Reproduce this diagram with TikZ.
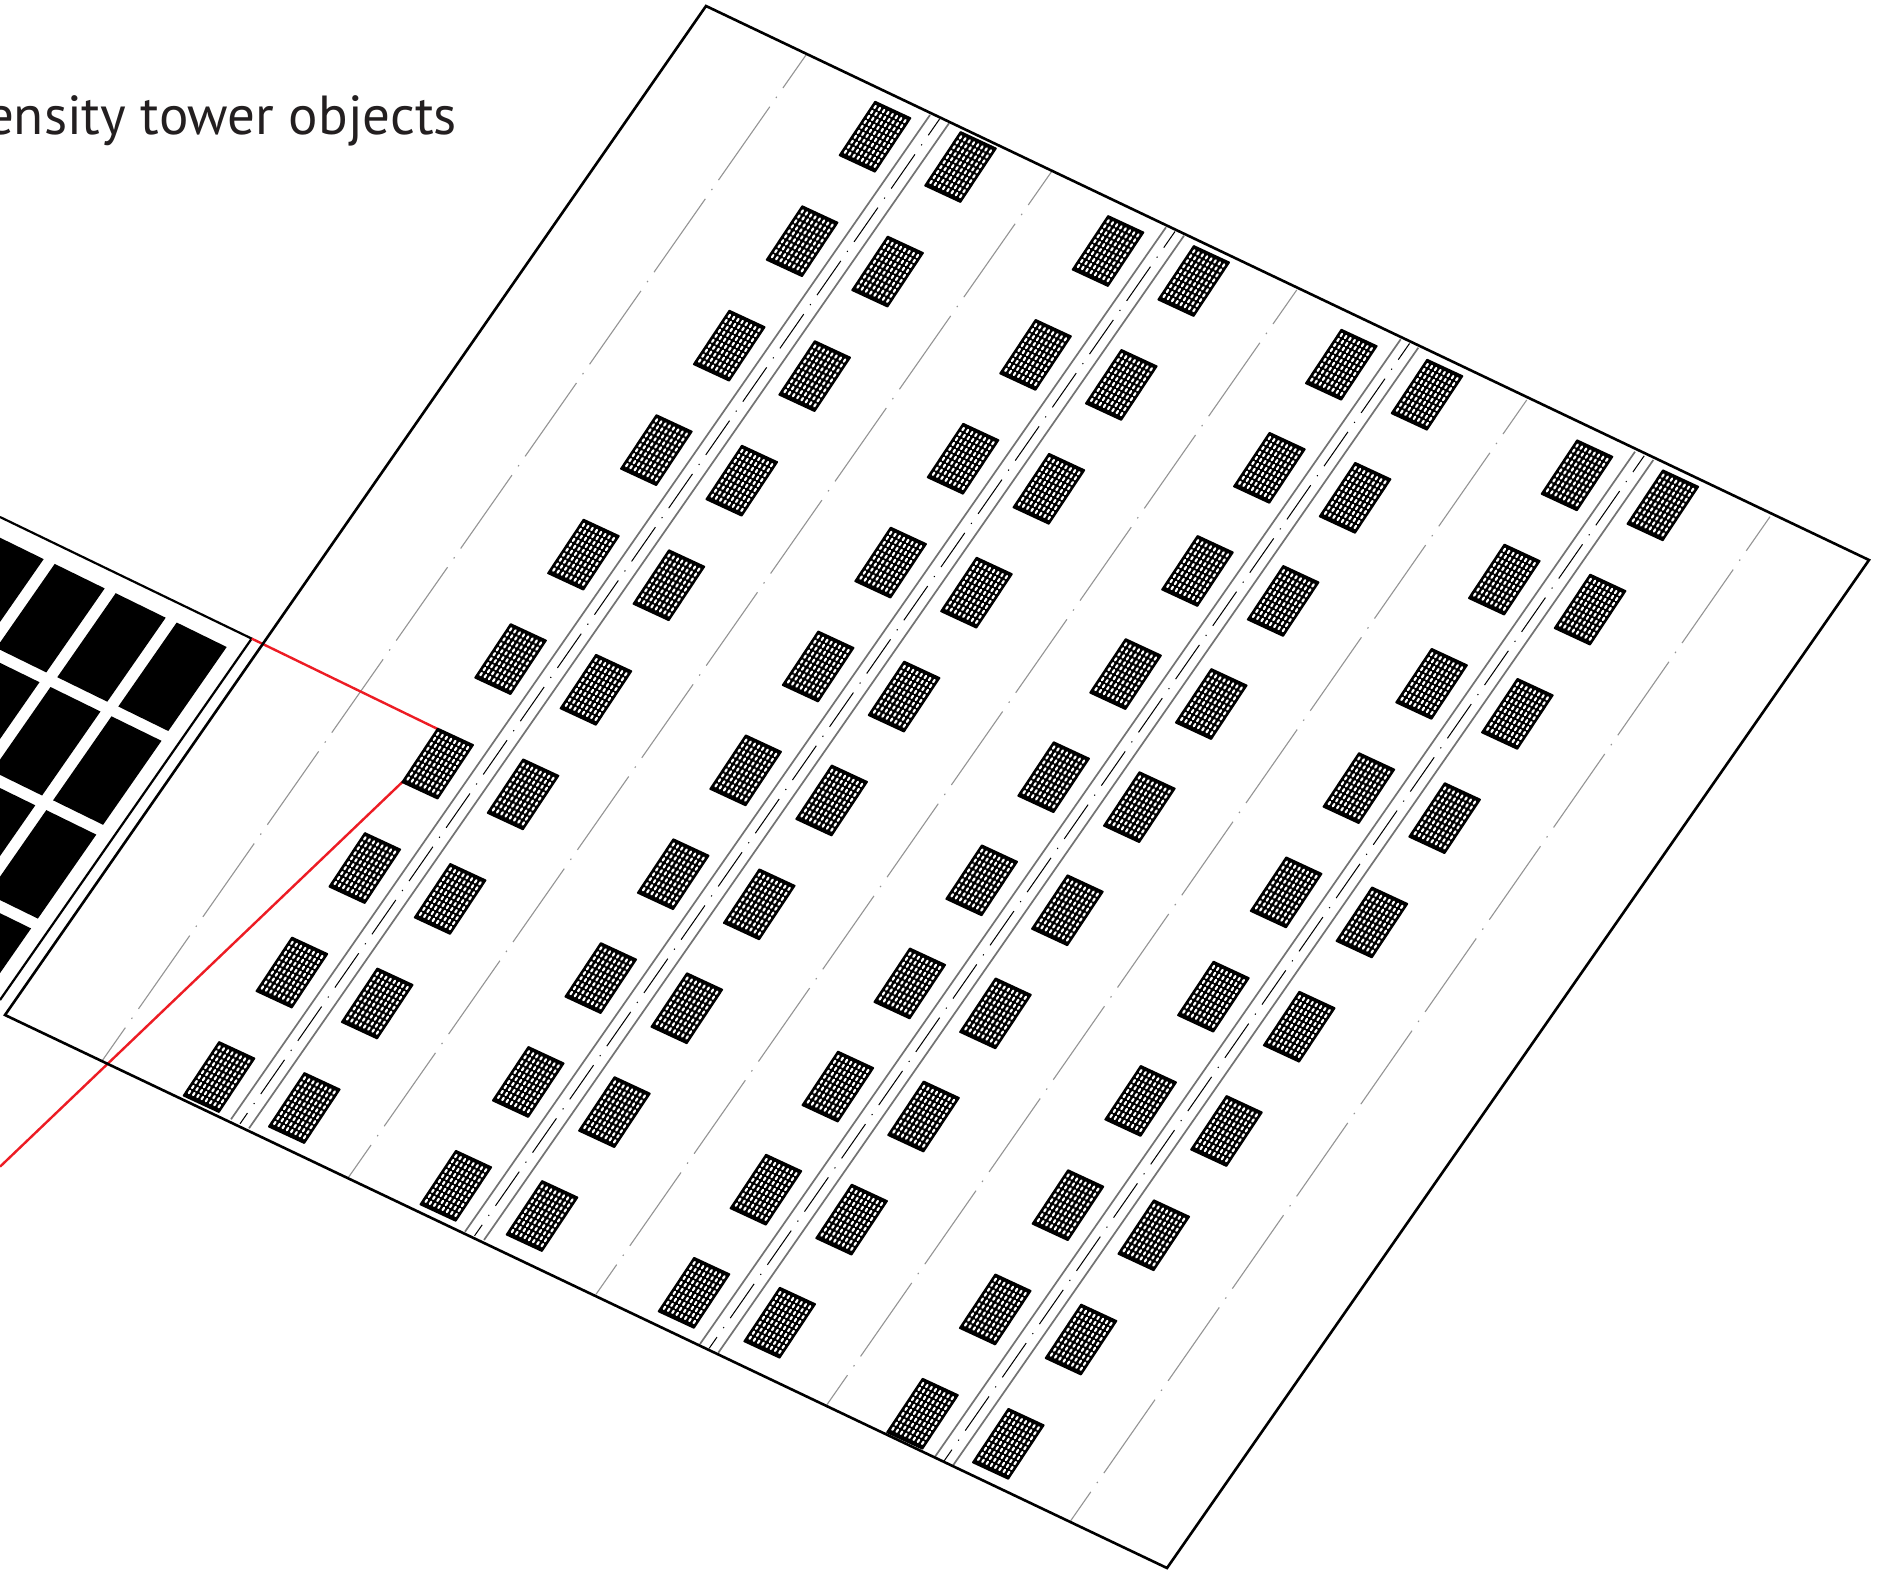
\documentclass[tikz,border=0pt]{standalone}
\usepackage{fontspec}
\setmainfont{PT Sans}
\definecolor{inkblack}{HTML}{231F20}
\definecolor{redline}{HTML}{ED1C24}
\tikzset{
  framed/.style={draw=black,line width=2.6pt,line join=miter},
  panelline/.style={draw=black,line width=2.2pt},
  redlink/.style={draw=redline,line width=2.4pt},
  block/.style={fill=black,draw=none},
  roadedge/.style={draw=black!55,line width=1.7pt},
  roadmid/.style={draw=black,line width=1pt,dash pattern=on 41.7pt off 11pt on 1.2pt off 11pt,dash phase=22pt},
  zoneline/.style={draw=black!42,line width=1.1pt,dash pattern=on 89.5pt off 10.7pt on 1.5pt off 10.7pt,dash phase=48pt},
  towerbody/.style={fill=black,draw=black,line width=1.8pt,line join=round},
  towerholes/.style={draw=white,line width=2.2pt,line cap=round,dash pattern=on 2.7pt off 3.25pt,dash phase=4.3pt}
}
\newcommand{\towerblock}[2]{%
  \begin{scope}[shift={(#1,#2)}]
    \path[towerbody] (0.1,-35) -- (35.4,-18.6) -- (-0.1,35) -- (-35.4,18.6) -- cycle;
    \foreach \cx in {-.4375,-.3125,-.1875,-.0625,.0625,.1875,.3125,.4375}{
      \path[towerholes] ({\cx*34+16.6},{\cx*16.2-25.1}) -- ({\cx*34-16.6},{\cx*16.2+25.1});
    }
  \end{scope}%
}
\begin{document}
\begin{tikzpicture}[x=1pt,y=-1pt]
\useasboundingbox (0,0) rectangle (1879,1574);
\clip (0,0) rectangle (1879,1574);
\fill[white] (0,0) rectangle (1879,1574);

% named frame corners
\coordinate (ftop) at (706,6);
\coordinate (fright) at (1869,560);
\coordinate (fbottom) at (1167,1568);
\coordinate (fleft) at (5,1015);
\coordinate (pcorner) at (251.7,638.6);
\coordinate (pstart) at (0,517);
\coordinate (pend) at (0,1000);
\coordinate (redend) at (0,1166.7);
\coordinate (towertop) at (438.3,729.3);
\coordinate (towerlow) at (402.7,781.7);

% text
\node[anchor=base east,inner sep=0pt,text=inkblack,font=\fontsize{55}{55}\selectfont] (caption) at (457,134) {ensity tower objects};

% panel blocks
\foreach \i in {0,...,3}{
  \foreach \j in {0,...,3}{
    \fill[block,shift={(176.7-61*\i-65.2*\j,622.5-29.3*\i+93.8*\j)}]
      (0,0) -- (50,24.5) -- (-8.4,108.5) -- (-58.4,84) -- cycle;
  }
}
\draw[panelline] (pstart) -- (pcorner) -- (pend);

% zone lines
\foreach \ax/\ay/\bx/\by in {806.7/54/102/1061,1052/171/348/1178,1296.7/290/596/1294.3,1526.7/400/826.7/1405,1770/516.7/1070/1521.7}{
  \draw[zoneline] (\ax,\ay) -- (\bx,\by);
}

% roads
\foreach \lax/\lay/\lbx/\lby/\rax/\ray/\rbx/\rby in {
  930/115/231/1119.3/949/123.3/249/1128.3,
  1166/227.3/465/1231.7/1184/235.7/484/1240,
  1400.7/339.3/700/1344/1418.3/347.7/718.3/1352.7,
  1635/451.7/935/1456.7/1653.3/460/953.3/1465}{
  \draw[roadedge] (\lax,\lay) -- (\lbx,\lby);
  \draw[roadedge] (\rax,\ray) -- (\rbx,\rby);
  \draw[roadmid] ({(\lax+\rax)/2},{(\lay+\ray)/2}) -- ({(\lbx+\rbx)/2},{(\lby+\rby)/2});
}

% red links
\draw[redlink] (pcorner) -- (towertop);
\draw[redlink] (towerlow) -- (redend);

% frame
\draw[framed] (ftop) -- (fright) -- (fbottom) -- (fleft) -- cycle;

% towers
\foreach \ax/\ay/\bx/\by in {
  875/136.7/219/1077, 960.5/167/304.3/1108,
  1108/251/455.8/1185.8, 1193.7/281/542/1216,
  1341.3/364.7/694/1292.8, 1427/394.7/779.7/1322.7,
  1577/475.3/922.5/1413.7, 1662.8/505.3/1008.3/1443.8}{
  \foreach \k in {0,...,9}{
    \pgfmathsetmacro{\tx}{\ax+(\bx-\ax)*\k/9}
    \pgfmathsetmacro{\ty}{\ay+(\by-\ay)*\k/9}
    \towerblock{\tx}{\ty}
  }
}
\end{tikzpicture}
\end{document}
